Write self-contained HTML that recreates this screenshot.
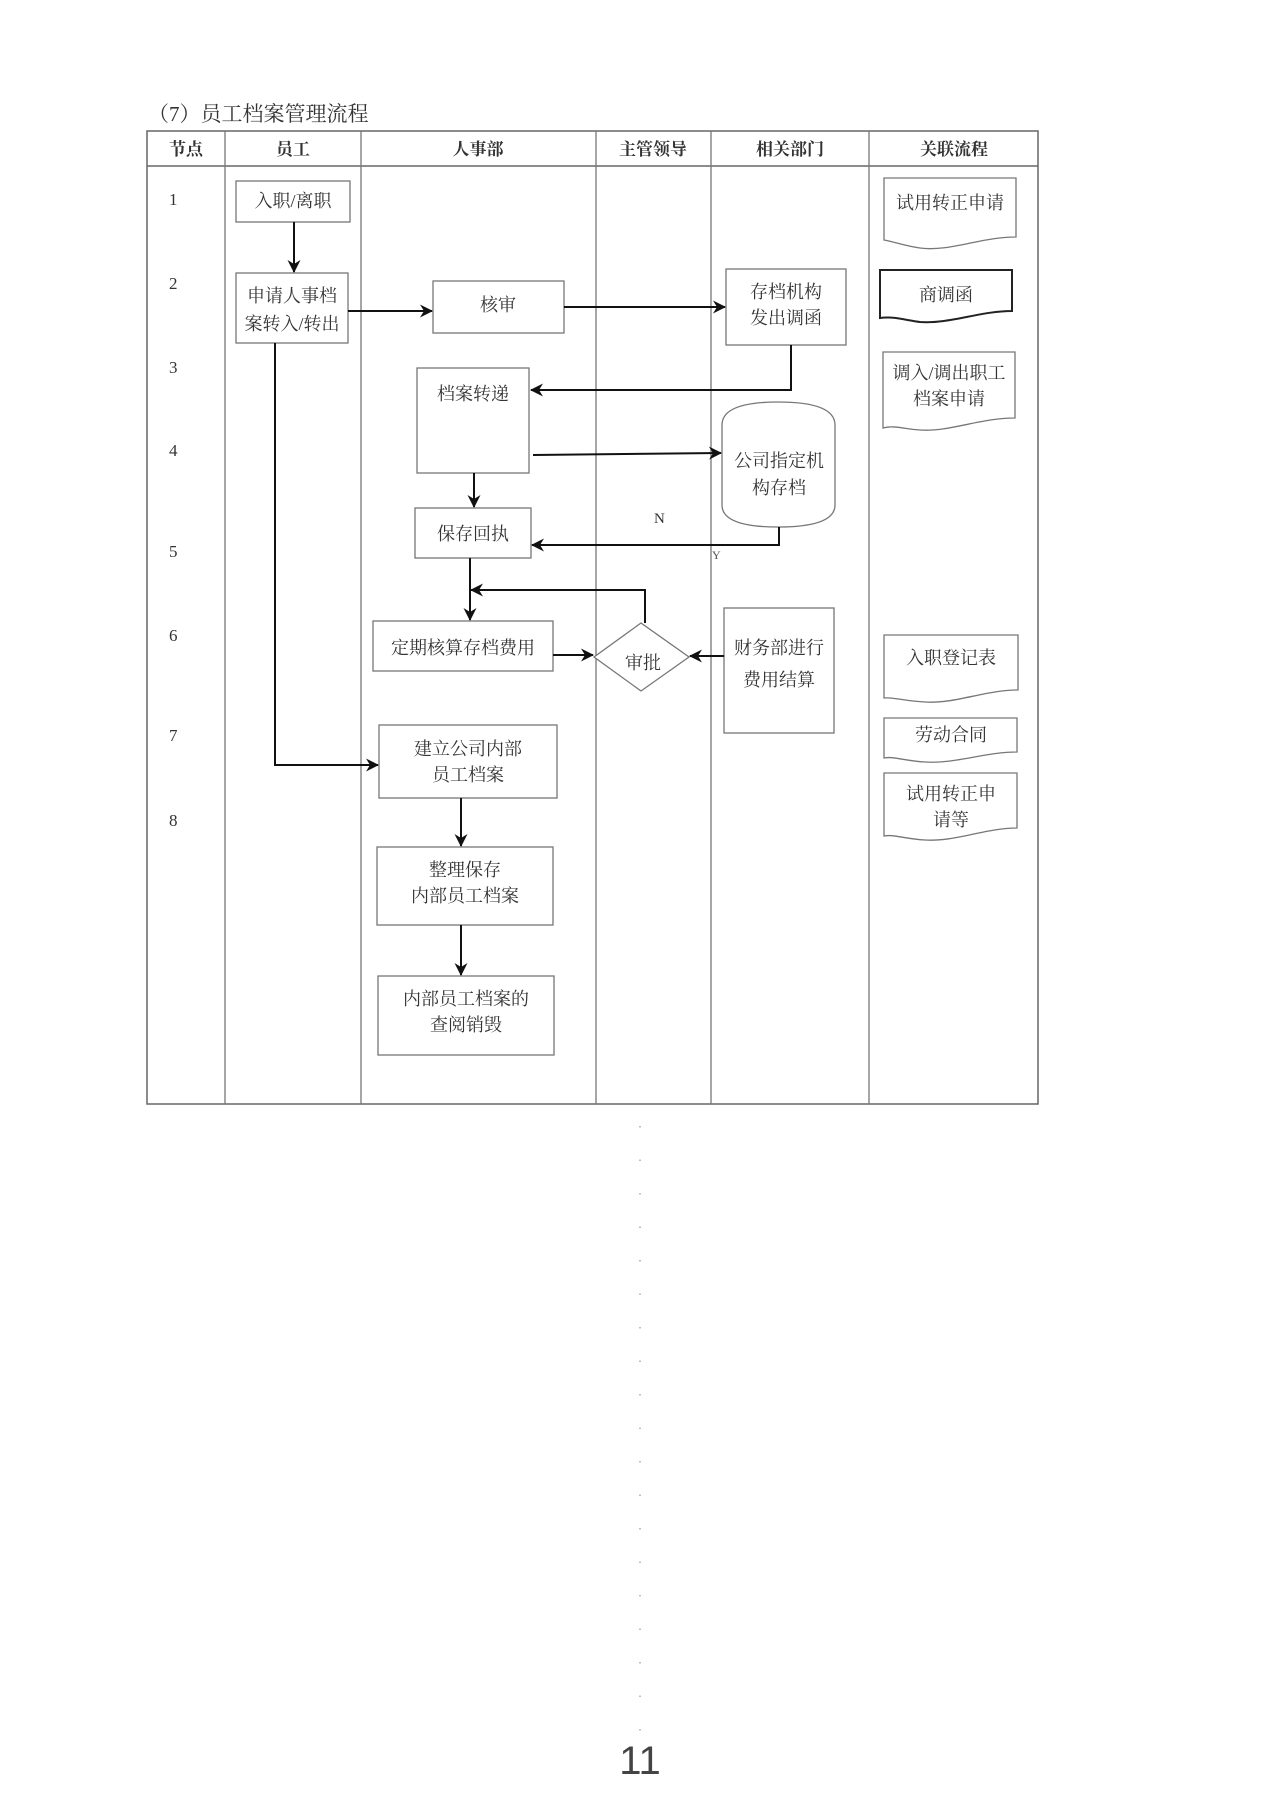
<!DOCTYPE html>
<html><head><meta charset="utf-8"><style>
html,body{margin:0;padding:0;background:#fff;}
svg{display:block;}
text{font-family:"Liberation Serif","Noto Serif CJK SC",serif;fill:#333;}
.h{font-family:"Liberation Sans","Noto Sans CJK SC",sans-serif;font-weight:bold;fill:#111;font-size:17px;}
.t{font-size:18px;text-anchor:middle;}
.n{font-size:17px;fill:#444;}
.b{fill:#fff;stroke:#777;stroke-width:1.3;}
.l{fill:none;stroke:#111;stroke-width:2;}
</style></head><body>
<svg width="1280" height="1809" viewBox="0 0 1280 1809" xmlns="http://www.w3.org/2000/svg">
<defs><marker id="a" markerWidth="13" markerHeight="13" refX="12" refY="6.5" orient="auto" markerUnits="userSpaceOnUse"><path d="M0,0 L13,6.5 L0,13 L4,6.5 Z" fill="#111"/></marker></defs>
<text x="148" y="121" style="font-size:21px;fill:#333">（7）员工档案管理流程</text>
<rect x="147" y="131" width="891" height="973" fill="none" stroke="#666" stroke-width="1.5"/>
<line x1="147" y1="166" x2="1038" y2="166" stroke="#666" stroke-width="1.5"/>
<g stroke="#777" stroke-width="1.3">
<line x1="225" y1="131" x2="225" y2="1104"/><line x1="361" y1="131" x2="361" y2="1104"/>
<line x1="596" y1="131" x2="596" y2="1104"/><line x1="711" y1="131" x2="711" y2="1104"/>
<line x1="869" y1="131" x2="869" y2="1104"/></g>
<g class="h" text-anchor="middle">
<text x="186" y="155">节点</text><text x="293" y="155">员工</text><text x="478" y="155">人事部</text>
<text x="653" y="155">主管领导</text><text x="790" y="155">相关部门</text><text x="954" y="155">关联流程</text></g>
<g class="n"><text x="169" y="205">1</text><text x="169" y="289">2</text><text x="169" y="373">3</text><text x="169" y="456">4</text><text x="169" y="557">5</text><text x="169" y="641">6</text><text x="169" y="741">7</text><text x="169" y="826">8</text></g>
<rect class="b" x="236" y="181" width="114" height="41"/><text class="t" x="293" y="207">入职/离职</text>
<rect class="b" x="236" y="273" width="112" height="70"/><text class="t" x="292" y="302">申请人事档</text><text class="t" x="292" y="330">案转入/转出</text>
<rect class="b" x="433" y="281" width="131" height="52"/><text class="t" x="498" y="311">核审</text>
<rect class="b" x="726" y="269" width="120" height="76"/><text class="t" x="786" y="298">存档机构</text><text class="t" x="786" y="324">发出调函</text>
<rect class="b" x="417" y="368" width="112" height="105"/><text class="t" x="473" y="400">档案转递</text>
<path class="b" d="M722,425 Q722,402 778,402 Q835,402 835,425 V505 Q835,527 778,527 Q722,527 722,505 Z"/>
<text class="t" x="779" y="467">公司指定机</text><text class="t" x="779" y="494">构存档</text>
<rect class="b" x="415" y="508" width="116" height="50"/><text class="t" x="473" y="540">保存回执</text>
<rect class="b" x="373" y="621" width="180" height="50"/><text class="t" x="463" y="654">定期核算存档费用</text>
<path class="b" d="M641,623 L689,657 L641,691 L594,657 Z"/><text class="t" x="643" y="669">审批</text>
<rect class="b" x="724" y="608" width="110" height="125"/><text class="t" x="779" y="654">财务部进行</text><text class="t" x="779" y="686">费用结算</text>
<rect class="b" x="379" y="725" width="178" height="73"/><text class="t" x="468" y="755">建立公司内部</text><text class="t" x="468" y="781">员工档案</text>
<rect class="b" x="377" y="847" width="176" height="78"/><text class="t" x="465" y="876">整理保存</text><text class="t" x="465" y="902">内部员工档案</text>
<rect class="b" x="378" y="976" width="176" height="79"/><text class="t" x="466" y="1005">内部员工档案的</text><text class="t" x="466" y="1031">查阅销毁</text>
<path class="b" d="M884,178 H1016 V237 C980,237 950,252 920,248 C905,246 895,242 884,240 Z"/><text class="t" x="950" y="209">试用转正申请</text>
<path class="b" style="stroke:#222;stroke-width:2" d="M880,270 H1012 V311 C980,311 950,324 920,322 C905,320 892,316 880,318 Z"/><text class="t" x="946" y="301">商调函</text>
<path class="b" d="M883,352 H1015 V418 C980,418 950,432 920,430 C905,429 893,425 883,428 Z"/><text class="t" x="949" y="379">调入/调出职工</text><text class="t" x="949" y="405">档案申请</text>
<path class="b" d="M884,635 H1018 V690 C985,690 955,704 925,702 C905,701 893,697 884,698 Z"/><text class="t" x="951" y="664">入职登记表</text>
<path class="b" d="M884,718 H1017 V752 C985,752 955,764 925,762 C905,761 893,756 884,758 Z"/><text class="t" x="951" y="741">劳动合同</text>
<path class="b" d="M884,773 H1017 V828 C985,828 955,842 925,840 C905,839 893,834 884,836 Z"/><text class="t" x="951" y="800">试用转正申</text><text class="t" x="951" y="826">请等</text>
<g class="l">
<line x1="294" y1="222" x2="294" y2="272" marker-end="url(#a)"/>
<line x1="348" y1="311" x2="432" y2="311" marker-end="url(#a)"/>
<line x1="564" y1="307" x2="725" y2="307" marker-end="url(#a)"/>
<polyline points="791,345 791,390 531,390" marker-end="url(#a)"/>
<line x1="533" y1="455" x2="721" y2="453" marker-end="url(#a)"/>
<line x1="474" y1="473" x2="474" y2="507" marker-end="url(#a)"/>
<polyline points="779,527 779,545 532,545" marker-end="url(#a)"/>
<line x1="470" y1="558" x2="470" y2="620" marker-end="url(#a)"/>
<polyline points="645,623 645,590 471,590" marker-end="url(#a)"/>
<line x1="553" y1="655" x2="593" y2="655" marker-end="url(#a)"/>
<line x1="724" y1="656" x2="690" y2="656" marker-end="url(#a)"/>
<polyline points="275,343 275,765 378,765" marker-end="url(#a)"/>
<line x1="461" y1="798" x2="461" y2="846" marker-end="url(#a)"/>
<line x1="461" y1="925" x2="461" y2="975" marker-end="url(#a)"/>
</g>
<text x="654" y="523" style="font-size:15px;fill:#333">N</text>
<text x="712" y="559" style="font-size:12px;fill:#555">Y</text>
<line x1="640" y1="1126" x2="640" y2="1735" stroke="#aaa" stroke-width="1.5" stroke-dasharray="1.5 32"/>
<text x="640" y="1774" text-anchor="middle" style="font-family:'Liberation Sans',sans-serif;font-size:40px;fill:#444">11</text>
</svg>
</body></html>
